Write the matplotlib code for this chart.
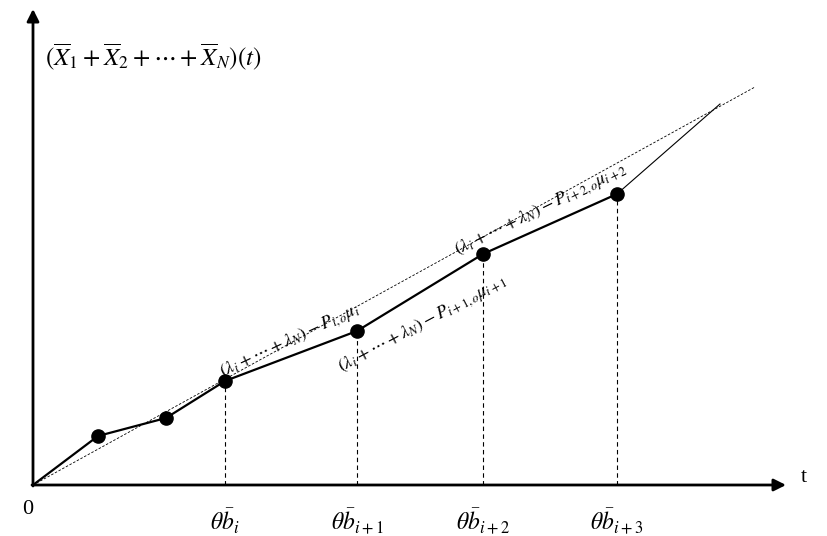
import numpy as np
import matplotlib.pyplot as plt

plt.rcParams['mathtext.fontset'] = 'stix'
plt.rcParams['font.family'] = ['Liberation Serif', 'DejaVu Serif']

# piecewise-linear cumulative workload (t, value), origin at (0, 0)
knot_t = [0, 65, 133, 192, 324, 450, 584]
knot_y = [0, 49, 67, 104, 154, 231, 291]
tail_t = [584, 687]
tail_y = [291, 381]

# dotted reference line
ref_t = [0, 722]
ref_y = [0, 398]

# breakpoints marked on the t axis
mark_idx = [3, 4, 5, 6]
tick_labels = [r'$\theta\bar{b}_i$', r'$\theta\bar{b}_{i+1}$',
               r'$\theta\bar{b}_{i+2}$', r'$\theta\bar{b}_{i+3}$']

slope_labels = [r'$(\lambda_i + \cdots + \lambda_N) - P_{i,o}\mu_i$',
                r'$(\lambda_i + \cdots + \lambda_N) - P_{i+1,o}\mu_{i+1}$',
                r'$(\lambda_i + \cdots + \lambda_N) - P_{i+2,o}\mu_{i+2}$']

fig = plt.figure(figsize=(8.27, 5.36), dpi=100)
ax = fig.add_axes([0, 0, 1, 1])
ax.set_xlim(-33, 794)
ax.set_ylim(-51, 485)
ax.axis('off')

# axes with arrows
ax.annotate('', xy=(753, 0), xytext=(-1, 0),
            arrowprops=dict(arrowstyle='-|>', lw=2, color='black', mutation_scale=18,
                            shrinkA=0, shrinkB=0))
ax.annotate('', xy=(0, 476), xytext=(0, -1),
            arrowprops=dict(arrowstyle='-|>', lw=2, color='black', mutation_scale=18,
                            shrinkA=0, shrinkB=0))

ax.plot(ref_t, ref_y, color='black', lw=0.6, ls=(0, (3, 2)))
ax.plot(tail_t, tail_y, color='black', lw=0.8)
ax.plot(knot_t, knot_y, color='black', lw=1.6)
ax.plot(knot_t[1:], knot_y[1:], 'o', color='black', ms=9.5)

for k, lab in zip(mark_idx, tick_labels):
    ax.plot([knot_t[k], knot_t[k]], [0, knot_y[k]], color='black', lw=0.8, ls=(0, (4, 3)))
    ax.text(knot_t[k], -36, lab, ha='center', va='center', fontsize=17)

# slope annotations
label_pos = [(257, 144, 25), (390, 161, 28), (508, 276, 26)]
for (x, y, rot), lab in zip(label_pos, slope_labels):
    ax.text(x, y, lab, ha='center', va='center', fontsize=13, rotation=rot,
            rotation_mode='anchor')

ax.text(-5, -25, '0', ha='center', va='center', fontsize=16)
ax.text(771, 8, 't', ha='center', va='center', fontsize=16)
ax.text(12, 428, r'$(\overline{X}_1 + \overline{X}_2 + \cdots + \overline{X}_N)(t)$',
        ha='left', va='center', fontsize=18)

fig.savefig('out.png', dpi=100)
